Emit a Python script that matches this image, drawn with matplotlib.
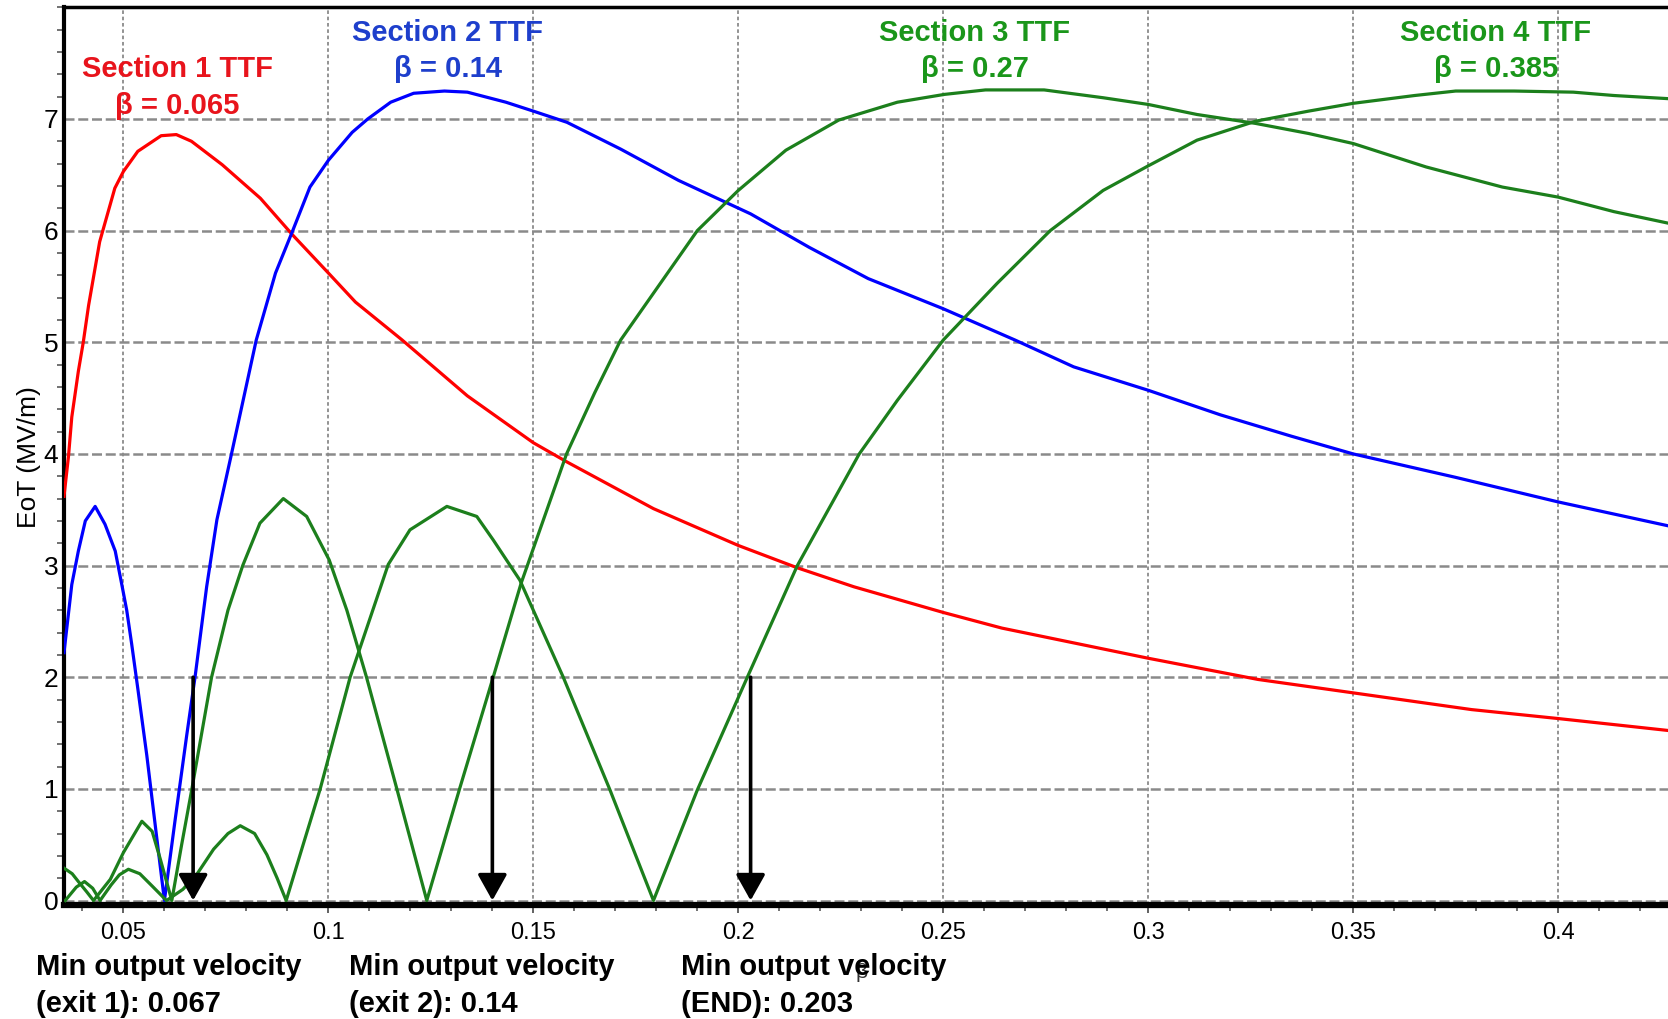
import numpy as np
import matplotlib.pyplot as plt
from matplotlib.ticker import MultipleLocator

plt.rcParams['font.family'] = ['Liberation Sans', 'DejaVu Sans']

# values (beta, EoT in MV/m)
sec1_beta = [0.0355, 0.0366, 0.0374, 0.039, 0.0402, 0.0415, 0.0442, 0.0479, 0.05, 0.0535,
             0.0592, 0.0629, 0.0666, 0.0741, 0.0834, 0.0913, 0.1, 0.1066, 0.118, 0.1339,
             0.15, 0.1581, 0.1793, 0.2, 0.2144, 0.2282, 0.25, 0.2643, 0.3, 0.3268,
             0.35, 0.3789, 0.4, 0.4276]
sec1_eot = [3.62, 3.98, 4.33, 4.74, 5.0, 5.33, 5.9, 6.38, 6.53, 6.71,
            6.85, 6.86, 6.80, 6.59, 6.29, 5.96, 5.62, 5.36, 5.02, 4.52,
            4.10, 3.93, 3.51, 3.18, 2.98, 2.81, 2.58, 2.44, 2.17, 1.98,
            1.86, 1.71, 1.63, 1.52]

sec2_beta = [0.0355, 0.0374, 0.039, 0.0407, 0.0431, 0.0455, 0.048, 0.0496, 0.0508, 0.052,
             0.0535, 0.0557, 0.0581, 0.06, 0.0626, 0.0654, 0.0675, 0.0703, 0.0728, 0.0763,
             0.0824, 0.0871, 0.0913, 0.0955, 0.1, 0.1058, 0.1096, 0.1152, 0.1208, 0.1283,
             0.1339, 0.1433, 0.15, 0.1582, 0.1713, 0.1854, 0.203, 0.2173, 0.2317, 0.25,
             0.2675, 0.2818, 0.3, 0.3176, 0.3348, 0.35, 0.375, 0.4, 0.4276]
sec2_eot = [2.22, 2.83, 3.13, 3.40, 3.53, 3.37, 3.13, 2.83, 2.6, 2.3,
            1.9, 1.3, 0.57, 0.0, 0.72, 1.47, 2.01, 2.81, 3.41, 3.99,
            5.02, 5.62, 6.0, 6.39, 6.63, 6.88, 7.0, 7.15, 7.23, 7.25,
            7.24, 7.15, 7.07, 6.97, 6.73, 6.45, 6.15, 5.85, 5.57, 5.30,
            5.02, 4.78, 4.57, 4.35, 4.16, 4.0, 3.79, 3.57, 3.35]

sec3_beta = [0.0355, 0.0375, 0.039, 0.041, 0.0427, 0.0468, 0.05, 0.0545, 0.057, 0.059,
             0.0618, 0.0642, 0.0667, 0.0715, 0.0755, 0.0791, 0.0833, 0.089, 0.0947, 0.1002,
             0.1045, 0.1093, 0.1167, 0.124, 0.132, 0.1402, 0.147, 0.1581, 0.165, 0.1713,
             0.19, 0.2, 0.2116, 0.2245, 0.2388, 0.2503, 0.2603, 0.2746, 0.289, 0.3,
             0.3119, 0.3262, 0.3391, 0.35, 0.3678, 0.3864, 0.4, 0.4136, 0.4277]
sec3_eot = [0.29, 0.24, 0.17, 0.08, 0.0, 0.19, 0.43, 0.71, 0.62, 0.37,
            0.0, 0.5, 1.0, 2.0, 2.6, 3.0, 3.38, 3.60, 3.44, 3.05,
            2.6, 2.0, 1.0, 0.0, 1.0, 2.0, 2.84, 4.0, 4.55, 5.02,
            6.0, 6.36, 6.72, 6.99, 7.15, 7.22, 7.26, 7.26, 7.19, 7.13,
            7.04, 6.96, 6.87, 6.78, 6.57, 6.39, 6.30, 6.17, 6.06]

sec4_beta = [0.0358, 0.0385, 0.0405, 0.0425, 0.0443, 0.047, 0.049, 0.0512, 0.054, 0.057,
             0.0605, 0.0645, 0.068, 0.072, 0.0755, 0.0785, 0.082, 0.085, 0.0875, 0.0897,
             0.094, 0.098, 0.1053, 0.1146, 0.1199, 0.1289, 0.1362, 0.1402, 0.1467, 0.1573,
             0.1687, 0.1793, 0.19, 0.2022, 0.2144, 0.2295, 0.2388, 0.25, 0.2632, 0.2761,
             0.289, 0.3, 0.3119, 0.3262, 0.3391, 0.35, 0.365, 0.375, 0.3893, 0.4037,
             0.4136, 0.4277]
sec4_eot = [0.0, 0.12, 0.17, 0.11, 0.0, 0.14, 0.23, 0.28, 0.24, 0.13,
            0.0, 0.1, 0.24, 0.46, 0.6, 0.67, 0.6, 0.41, 0.2, 0.0,
            0.52, 1.0, 2.0, 3.01, 3.32, 3.53, 3.44, 3.23, 2.87, 2.0,
            0.99, 0.0, 0.99, 2.0, 3.0, 4.0, 4.48, 5.02, 5.53, 6.0,
            6.36, 6.58, 6.81, 6.98, 7.07, 7.14, 7.21, 7.25, 7.25, 7.24,
            7.21, 7.18]

section_names = ['Section 1 TTF', 'Section 2 TTF', 'Section 3 TTF', 'Section 4 TTF']
section_betas = ['0.065', '0.14', '0.27', '0.385']

exit_betas = [0.067, 0.14, 0.203]
exit_names = ['exit 1', 'exit 2', 'END']
exit_values = ['0.067', '0.14', '0.203']

x_ticks = [0.05, 0.1, 0.15, 0.2, 0.25, 0.3, 0.35, 0.4]
x_tick_labels = ['0.05', '0.1', '0.15', '0.2', '0.25', '0.3', '0.35', '0.4']
y_ticks = [0, 1, 2, 3, 4, 5, 6, 7]

line_colors = ['#ff0000', '#0000ff', '#1c7f1c', '#1c7f1c']
text_colors = ['#e8141c', '#1e3fcc', '#1a961a', '#1a961a']

W, H = 1668, 1019
fig = plt.figure(figsize=(W / 100, H / 100), dpi=100)
ax = fig.add_axes([64 / W, 1 - 905 / H, 1 - 64 / W, (905 - 7.3) / H])

curves = [(sec1_beta, sec1_eot), (sec2_beta, sec2_eot),
          (sec3_beta, sec3_eot), (sec4_beta, sec4_eot)]
for (bx, by), col in zip(curves, line_colors):
    ax.plot(bx, by, color=col, lw=2.3, zorder=3, solid_joinstyle='round')

# arrows marking the minimum output velocities
for b in exit_betas:
    ax.annotate('', xy=(b, 0.0), xytext=(b, 2.0),
                arrowprops=dict(arrowstyle='-|>,head_length=0.5,head_width=0.28',
                                mutation_scale=32, lw=2.6, color='black',
                                shrinkA=0, shrinkB=0), zorder=5)

ax.set_xlim(0.0355, 0.4268)
ax.set_ylim(-0.04, 8.0)

ax.set_xticks(x_ticks)
ax.set_xticklabels(x_tick_labels, fontsize=17)
ax.set_yticks(y_ticks)
ax.set_yticklabels([str(v) for v in y_ticks], fontsize=19)
ax.xaxis.set_minor_locator(MultipleLocator(0.01))
ax.yaxis.set_minor_locator(MultipleLocator(0.2))
ax.tick_params(axis='x', which='major', direction='out', length=6, width=1.3,
               color='#555555', pad=6)
ax.tick_params(axis='x', which='minor', direction='out', length=4, width=1.3,
               color='#666666')
ax.tick_params(axis='y', which='major', length=0, pad=4)
ax.tick_params(axis='y', which='minor', direction='out', length=5, width=1.3,
               color='#666666')

ax.xaxis.grid(True, color='#8a8a8a', linestyle=(0, (2, 1.5)), lw=1.3)
ax.yaxis.grid(True, color='#8a8a8a', linestyle=(0, (4, 1.5)), lw=1.8)
ax.set_axisbelow(True)

ax.spines['right'].set_visible(False)
ax.spines['bottom'].set_linewidth(4.5)
ax.spines['left'].set_linewidth(3)
ax.spines['top'].set_linewidth(2.5)

# section labels at the top
label_x = [177, 448, 975, 1496]
label_y = [(77, 114), (41, 77), (41, 77), (41, 77)]
for name, beta, lx, (y1, y2), col in zip(section_names, section_betas, label_x, label_y, text_colors):
    fig.text(lx / W, 1 - y1 / H, name, ha='center', va='baseline',
             fontsize=21, fontweight='bold', color=col)
    fig.text(lx / W, 1 - y2 / H, 'β = ' + beta, ha='center', va='baseline',
             fontsize=21, fontweight='bold', color=col)

# minimum output velocity notes below the axis
note_x = [36, 349, 681]
for name, val, nx in zip(exit_names, exit_values, note_x):
    fig.text(nx / W, 1 - 975 / H, 'Min output velocity', ha='left', va='baseline',
             fontsize=21, fontweight='bold', color='black', zorder=6)
    fig.text(nx / W, 1 - 1012 / H, f'({name}): {val}', ha='left', va='baseline',
             fontsize=21, fontweight='bold', color='black', zorder=6)

fig.text(862 / W, 1 - 972 / H, 'β', ha='center', va='center', fontsize=15,
         color='#333333', zorder=4)
fig.text(29 / W, 1 - 457 / H, 'EoT (MV/m)', rotation=90, ha='center', va='center',
         fontsize=19)

fig.savefig('out.png', dpi=100)
